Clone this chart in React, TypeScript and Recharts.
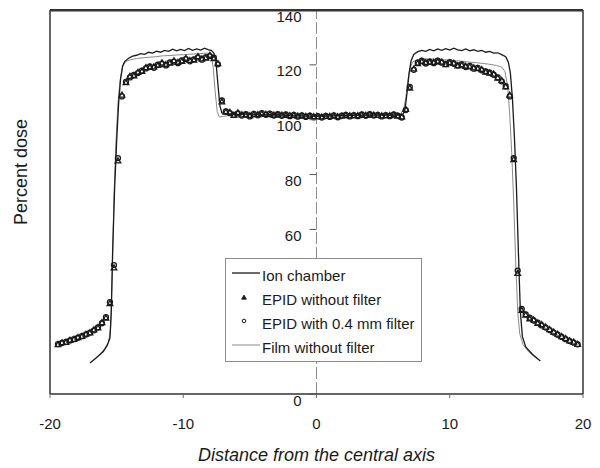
import React from 'react';
import {
  ComposedChart, Line, Scatter, XAxis, YAxis, ReferenceLine, Legend,
} from 'recharts';

// ---------- data ----------
const EPID_X = [
  -19.4, -19.1, -18.8, -18.5, -18.2, -17.9, -17.6, -17.3, -17.0, -16.7,
  -16.4, -16.1, -15.8, -15.5, -15.2, -14.9, -14.6, -14.3, -14.0, -13.7,
  -13.4, -13.1, -12.8, -12.5, -12.2, -11.9, -11.6, -11.3, -11.0, -10.7,
  -10.4, -10.1, -9.8, -9.5, -9.2, -8.9, -8.6, -8.3, -8.0, -7.7,
  -7.4, -7.1, -6.8, -6.5, -6.2, -5.9, -5.6, -5.3, -5.0, -4.7,
  -4.4, -4.1, -3.8, -3.5, -3.2, -2.9, -2.6, -2.3, -2.0, -1.7,
  -1.4, -1.1, -0.8, -0.5, -0.2, 0.1, 0.4, 0.7, 1.0, 1.3,
  1.6, 1.9, 2.2, 2.5, 2.8, 3.1, 3.4, 3.7, 4.0, 4.3,
  4.6, 4.9, 5.2, 5.5, 5.8, 6.1, 6.4, 6.7, 7.0, 7.3,
  7.6, 7.9, 8.2, 8.5, 8.8, 9.1, 9.4, 9.7, 10.0, 10.3,
  10.6, 10.9, 11.2, 11.5, 11.8, 12.1, 12.4, 12.7, 13.0, 13.3,
  13.6, 13.9, 14.2, 14.5, 14.8, 15.1, 15.4, 15.7, 16.0, 16.3,
  16.6, 16.9, 17.2, 17.5, 17.8, 18.1, 18.4, 18.7, 19.0, 19.3,
  19.6,
];

const EPID_FILTER = [
  18.2, 18.6, 19.0, 19.5, 20.0, 20.5, 21.1, 21.7, 22.4, 23.2,
  24.3, 25.8, 28.0, 33.5, 47.0, 86.0, 108.5, 113.8, 115.4, 116.3,
  117.0, 117.9, 118.7, 119.4, 118.9, 120.1, 120.4, 119.8, 120.9, 121.2,
  120.6, 121.6, 122.1, 121.3, 122.0, 122.7, 121.9, 122.8, 123.2, 122.6,
  120.2, 107.0, 103.0, 102.4, 101.8, 102.3, 101.5, 102.0, 101.2, 102.1,
  101.6, 102.4, 101.8, 102.2, 101.5, 102.0, 101.4, 101.9, 101.3, 101.8,
  101.1, 101.6, 101.0, 101.5, 100.9, 101.3, 100.8, 101.4, 101.0, 101.6,
  100.9, 101.5, 101.8, 101.2, 101.7, 101.3, 101.9, 101.4, 102.0, 101.5,
  101.8, 101.2, 101.7, 101.3, 101.9, 101.5, 100.8, 103.5, 112.0, 118.2,
  120.8, 121.5, 120.5, 121.2, 120.6, 121.5, 120.8, 120.3, 121.0, 120.4,
  119.8, 120.2, 119.2, 119.6, 118.6, 118.9, 118.0, 117.6, 117.2, 116.4,
  115.4, 114.0, 112.2, 108.5, 86.0, 45.0, 31.0, 29.0, 27.8, 26.8,
  26.0, 25.0, 24.2, 23.3, 22.4, 21.6, 20.8, 20.0, 19.3, 18.7,
  18.1,
];

const EPID_NOFILTER = [
  18.0, 18.7, 18.8, 19.6, 19.9, 20.6, 21.0, 21.8, 22.3, 23.4,
  24.1, 26.0, 27.7, 33.0, 46.0, 85.0, 109.0, 113.5, 115.8, 116.0,
  117.3, 117.6, 119.0, 119.1, 119.3, 119.8, 120.7, 120.1, 120.6, 121.5,
  120.9, 121.3, 122.4, 121.6, 121.7, 123.0, 122.2, 122.5, 123.5, 122.3,
  120.5, 106.5, 102.8, 102.7, 101.6, 102.5, 101.8, 101.8, 101.5, 101.9,
  101.9, 102.1, 102.0, 101.9, 101.7, 101.8, 101.7, 101.6, 101.5, 101.6,
  101.3, 101.4, 101.2, 101.3, 101.1, 101.1, 101.0, 101.2, 101.2, 101.4,
  101.1, 101.3, 101.6, 101.4, 101.5, 101.5, 101.7, 101.6, 101.8, 101.7,
  101.6, 101.4, 101.5, 101.5, 101.7, 101.3, 101.0, 103.8, 111.5, 118.5,
  120.5, 121.2, 120.8, 120.9, 120.9, 121.2, 121.0, 120.1, 120.7, 120.6,
  119.6, 119.9, 119.5, 119.3, 118.9, 118.6, 118.3, 117.4, 117.0, 116.6,
  115.2, 114.3, 112.0, 109.0, 85.5, 44.0, 30.5, 28.8, 27.4, 27.0,
  25.8, 25.3, 24.4, 23.5, 22.6, 21.8, 20.9, 20.2, 19.4, 18.9,
  18.1,
];

const ION_X = [
  -17.0, -16.5, -16.0, -15.7, -15.5, -15.4, -15.3, -15.15, -15.0, -14.85,
  -14.7, -14.55, -14.4, -14.1, -13.8, -13.5, -13.2, -12.9, -12.6, -12.3,
  -12.0, -11.7, -11.4, -11.1, -10.8, -10.5, -10.2, -9.9, -9.6, -9.3,
  -9.0, -8.7, -8.4, -8.1, -7.9, -7.7, -7.55, -7.4, -7.25, -7.1,
  -6.8, -6.0, -5.0, -4.0, -3.0, -2.0, -1.0, 0, 1.0, 2.0,
  3.0, 4.0, 5.0, 6.0, 6.5, 6.65, 6.8, 6.95, 7.1, 7.3,
  7.6, 7.9, 8.2, 8.5, 8.8, 9.1, 9.4, 9.7, 10.0, 10.3,
  10.6, 10.9, 11.2, 11.5, 11.8, 12.1, 12.4, 12.7, 13.0, 13.3,
  13.6, 13.9, 14.2, 14.4, 14.55, 14.7, 14.85, 15.0, 15.15, 15.3,
  15.45, 15.7, 16.2, 16.8,
];
const ION_Y = [
  11.3, 13.3, 15.5, 17.8, 20.5, 30, 52, 75, 92, 106,
  115, 119.5, 121.2, 122.4, 123.2, 123.5, 124.1, 123.8, 124.6, 124.3,
  125.0, 124.6, 125.3, 124.9, 125.7, 125.1, 125.6, 125.2, 126.0, 125.3,
  125.8, 125.4, 126.1, 125.5, 125.3, 124.3, 121.5, 113, 105, 102.5,
  102.2, 101.9, 102.1, 101.8, 101.9, 101.5, 101.4, 101.2, 101.4, 101.5,
  101.6, 101.8, 101.7, 101.6, 102.0, 104, 110, 117, 121.5, 123.8,
  124.8, 125.3, 124.9, 125.6, 125.1, 125.8, 125.3, 125.9, 125.4, 126.1,
  125.5, 125.2, 125.8, 125.1, 125.5, 124.9, 125.3, 124.6, 124.9, 124.3,
  124.4, 123.7, 123.0, 121.0, 117, 108, 94, 76, 52, 30,
  21, 17.2, 14.5, 12.0,
];

const FILM_X = [
  -16.8, -16.3, -15.9, -15.6, -15.45, -15.32, -15.2, -15.05, -14.9, -14.75,
  -14.55, -14.3, -14.0, -13.5, -13.0, -12.5, -12.0, -11.5, -11.0, -10.5,
  -10.0, -9.5, -9.0, -8.5, -8.1, -7.9, -7.75, -7.6, -7.45, -7.3,
  -7.0, -6.5, -5.5, -4.5, -3.5, -2.5, -1.5, -0.5, 0.5, 1.5,
  2.5, 3.5, 4.5, 5.5, 6.3, 6.55, 6.7, 6.85, 7.0, 7.2,
  7.5, 8.0, 8.5, 9.0, 9.5, 10.0, 10.5, 11.0, 11.5, 12.0,
  12.5, 13.0, 13.5, 13.9, 14.15, 14.35, 14.5, 14.65, 14.8, 14.95,
  15.1, 15.25, 15.5, 15.9, 16.3, 16.6,
];
const FILM_Y = [
  12.0, 14.2, 16.5, 19.0, 24, 45, 72, 92, 106, 114,
  119.5, 121.2, 121.8, 122.3, 122.6, 122.8, 123.0, 123.3, 123.4, 123.6,
  123.7, 123.9, 124.0, 124.2, 124.3, 123.6, 119, 110, 103, 101,
  101.2, 101.6, 101.8, 101.7, 101.6, 101.5, 101.3, 101.2, 101.3, 101.4,
  101.5, 101.6, 101.7, 101.8, 102.0, 104, 108, 114, 118.5, 121,
  121.8, 122.1, 122.2, 122.0, 121.9, 121.7, 121.5, 121.3, 121.0, 120.8,
  120.5, 120.2, 119.8, 119.2, 117.5, 112, 102, 88, 70, 48,
  30, 22, 18, 15.5, 13.8, 12.8,
];

const X_DOMAIN = [-20, 20];
const Y_DOMAIN = [0, 140];
const X_TICKS = [-20, -10, 0, 10, 20];
const Y_TICKS = [0, 20, 40, 60, 80, 100, 120, 140];
const Y_MAX = 140;
// tick labels that sit under the legend box in the original and are not visible
const Y_LABELS_UNDER_LEGEND = [20, 40];

const SERIES_NAMES = [
  'Ion chamber',
  'EPID without filter',
  'EPID with 0.4 mm filter',
  'Film without filter',
];

const zip = (xs: number[], ys: number[]) => xs.map((x, i) => ({ x, y: ys[i] }));
const ionData = zip(ION_X, ION_Y);
const filmData = zip(FILM_X, FILM_Y);
const epidNoFilterData = zip(EPID_X, EPID_NOFILTER);
const epidFilterData = zip(EPID_X, EPID_FILTER);

// ---------- layout ----------
const W = 600;
const H = 468;
const Y_AXIS_W = 50;
const R_AXIS_W = 1;
const MARGIN = { top: 10, right: 16, bottom: 0, left: 0 };
const X_AXIS_H = 74;
const PLOT_LEFT = Y_AXIS_W + MARGIN.left;
const PLOT_W = W - Y_AXIS_W - R_AXIS_W - MARGIN.left - MARGIN.right;
const AXIS_X = PLOT_LEFT + PLOT_W / 2;
const FONT = '"Liberation Sans", Arial, Helvetica, sans-serif';
const INK = '#1a1a1a';
const FRAME = { stroke: '#333', strokeWidth: 1.5 };

const YTick = (props: any) => {
  const { y, payload } = props;
  const showLabel = !Y_LABELS_UNDER_LEGEND.includes(payload.value);
  return (
    <g>
      {payload.value === Y_MAX && (
        <line x1={PLOT_LEFT} x2={PLOT_LEFT + PLOT_W} y1={y + 0.5} y2={y + 0.5} stroke="#333" strokeWidth={2} />
      )}
      <line x1={AXIS_X - 7} x2={AXIS_X} y1={y} y2={y} stroke="#555" strokeWidth={1} />
      {showLabel && (
        <text
          x={AXIS_X - 15}
          y={y + 6}
          textAnchor="end"
          dominantBaseline="central"
          fontSize={15}
          fontFamily={FONT}
          fill={INK}
        >
          {payload.value}
        </text>
      )}
    </g>
  );
};

const YTitle = () => (
  <text
    x={21}
    y={172}
    transform="rotate(-90 21 172)"
    textAnchor="middle"
    dominantBaseline="central"
    fontSize={18}
    fontFamily={FONT}
    fill={INK}
  >
    Percent dose
  </text>
);

const CircleShape = (props: any) => {
  const { cx, cy } = props;
  if (cx == null || cy == null) return null;
  return <circle cx={cx} cy={cy} r={2.5} fill="none" stroke={INK} strokeWidth={1.3} />;
};

const TriangleShape = (props: any) => {
  const { cx, cy } = props;
  if (cx == null || cy == null) return null;
  return (
    <path
      d={`M${cx},${cy - 3} L${cx + 2.8},${cy + 2} L${cx - 2.8},${cy + 2} Z`}
      fill="none"
      stroke={INK}
      strokeWidth={1.3}
    />
  );
};

const LegendBox = () => (
  <div
    style={{
      width: 197,
      height: 104,
      boxSizing: 'border-box',
      border: '1px solid #8a8a8a',
      background: '#fff',
      padding: '4px 0 0 4px',
      fontFamily: FONT,
      fontSize: 15,
      color: INK,
    }}
  >
    {SERIES_NAMES.map((name, i) => (
      <div key={name} style={{ display: 'flex', alignItems: 'center', height: 24 }}>
        <svg width={32} height={14} style={{ flex: 'none' }}>
          {i === 0 && <line x1={2} x2={30} y1={5} y2={5} stroke={INK} strokeWidth={1.3} />}
          {i === 3 && <line x1={2} x2={30} y1={5} y2={5} stroke="#8a8a8a" strokeWidth={1} />}
          {i === 1 && <path d="M14,3 L16.4,7.2 L11.6,7.2 Z" fill={INK} stroke={INK} strokeWidth={0.8} />}
          {i === 2 && <circle cx={14} cy={5} r={1.8} fill="none" stroke={INK} strokeWidth={1} />}
        </svg>
        <span style={{ whiteSpace: 'nowrap' }}>{name}</span>
      </div>
    ))}
  </div>
);

export default function App() {
  return (
    <div style={{ position: 'absolute', left: 0, top: 0, width: W, height: H, background: '#fff' }}>
      <ComposedChart width={W} height={H} margin={MARGIN}>
        <XAxis
          dataKey="x"
          type="number"
          domain={X_DOMAIN}
          ticks={X_TICKS}
          allowDataOverflow
          height={X_AXIS_H}
          axisLine={FRAME}
          tickLine={{ stroke: '#666' }}
          tickSize={4}
          tickMargin={20}
          tick={{ fontSize: 15, fill: INK, fontFamily: FONT }}
          label={{
            value: 'Distance from the central axis',
            position: 'insideBottom',
            offset: 7,
            style: { fontSize: 18, fontStyle: 'italic', fill: INK, fontFamily: FONT },
          }}
        />
        <YAxis
          dataKey="y"
          type="number"
          domain={Y_DOMAIN}
          ticks={Y_TICKS}
          allowDataOverflow
          width={Y_AXIS_W}
          axisLine={FRAME}
          tickLine={false}
          tick={<YTick />}
          label={{ value: 'Percent dose', content: <YTitle /> }}
        />
        <YAxis
          yAxisId="right"
          orientation="right"
          type="number"
          domain={Y_DOMAIN}
          allowDataOverflow
          width={R_AXIS_W}
          axisLine={FRAME}
          tick={false}
          tickLine={false}
        />
        <ReferenceLine x={0} stroke="#8c8c8c" strokeWidth={1} strokeDasharray="12 3" />
        <Line
          data={filmData}
          dataKey="y"
          name={SERIES_NAMES[3]}
          type="linear"
          stroke="#8a8a8a"
          strokeWidth={1}
          dot={false}
          isAnimationActive={false}
        />
        <Line
          data={ionData}
          dataKey="y"
          name={SERIES_NAMES[0]}
          type="linear"
          stroke={INK}
          strokeWidth={1.3}
          dot={false}
          isAnimationActive={false}
        />
        <Scatter
          data={epidNoFilterData}
          name={SERIES_NAMES[1]}
          shape={<TriangleShape />}
          isAnimationActive={false}
        />
        <Scatter
          data={epidFilterData}
          name={SERIES_NAMES[2]}
          shape={<CircleShape />}
          isAnimationActive={false}
        />
        <Legend
          layout="vertical"
          align="center"
          verticalAlign="middle"
          content={<LegendBox />}
          wrapperStyle={{ left: 225, top: 258, width: 197, height: 104, right: 'auto', bottom: 'auto', transform: 'none' }}
        />
      </ComposedChart>
      {/* top edge of the plot frame, kept above any overlay */}
      <div
        style={{
          position: 'absolute',
          left: PLOT_LEFT,
          top: MARGIN.top - 1,
          width: PLOT_W,
          height: 2,
          background: '#333',
          zIndex: 10,
          pointerEvents: 'none',
        }}
      />
    </div>
  );
}
